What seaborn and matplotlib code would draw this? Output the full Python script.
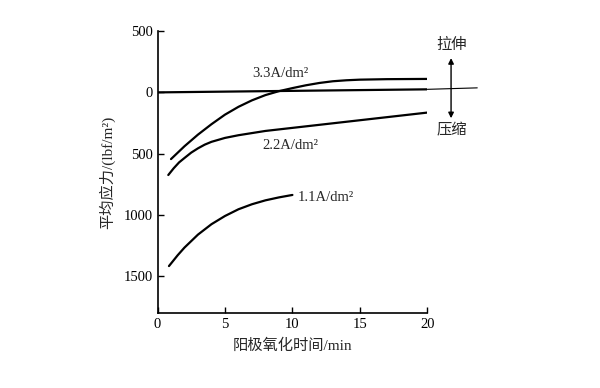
import numpy as np
import pandas as pd
import matplotlib
matplotlib.use("Agg")
import matplotlib.pyplot as plt
import seaborn as sns

# values (stress: tension positive, compression negative)
t_33 = [1, 2, 3, 4, 5, 6, 7, 8, 9, 10, 11, 12, 13, 14, 15, 17, 20]
s_33 = [-545, -440, -345, -260, -182, -118, -65, -22, 10, 35, 58, 77, 91, 99, 104, 108, 110]

t_22 = [0.8, 1.2, 1.6, 2, 2.5, 3, 3.5, 4, 5, 6, 8, 10, 12, 14, 16, 18, 20]
s_22 = [-675, -620, -572, -536, -492, -457, -427, -404, -372, -350, -315, -290, -265, -240, -215, -190, -165]

t_11 = [0.85, 1.5, 2, 3, 4, 5, 6, 7, 8, 9, 10]
s_11 = [-1419, -1330, -1268, -1162, -1077, -1010, -955, -914, -882, -858, -838]

t_zero = [0, 20]
s_zero = [0, 25]
t_zero_ext = [20, 23.7]
s_zero_ext = [25, 37]

yticks = [500, 0, -500, -1000, -1500]
ytick_labels = ["500", "0", "500", "1000", "1500"]
xticks = [0, 5, 10, 15, 20]

sns.set_theme(style="ticks")
plt.rcParams["font.family"] = ["Liberation Serif", "Noto Sans CJK SC"]
plt.rcParams["axes.unicode_minus"] = False

df = pd.concat([
    pd.DataFrame({"t": t_33, "s": s_33, "curve": "3.3"}),
    pd.DataFrame({"t": t_22, "s": s_22, "curve": "2.2"}),
    pd.DataFrame({"t": t_11, "s": s_11, "curve": "1.1"}),
    pd.DataFrame({"t": t_zero, "s": s_zero, "curve": "0"}),
])

fig = plt.figure(figsize=(6, 3.88), dpi=100)
ax = fig.add_axes([0.2625, 0.1941, 0.4497, 0.7255])

sns.lineplot(data=df, x="t", y="s", units="curve", estimator=None, sort=False,
             color="black", linewidth=1.6, ax=ax, legend=False)
ax.plot(t_zero_ext, s_zero_ext, color="black", linewidth=0.8, clip_on=False)

ax.set_xlim(0, 20)
ax.set_ylim(-1800, 500)
ax.set_xticks(xticks)
ax.set_yticks(yticks)
ax.set_yticklabels(ytick_labels)
ax.tick_params(direction="in", length=4, width=1, labelsize=10.5, colors="black")
sns.despine(ax=ax)
for sp in ["left", "bottom"]:
    ax.spines[sp].set_linewidth(1.2)
    ax.spines[sp].set_color("black")

ax.set_xlabel("阳极氧化时间/min", fontsize=11, labelpad=6)
ax.set_ylabel("平均应力/(lbf/m²)", fontsize=11, labelpad=6)

ax.text(7.0, 158, "3.3A/dm²", fontsize=10.5, va="center", ha="left")
ax.text(7.75, -430, "2.2A/dm²", fontsize=10.5, va="center", ha="left")
ax.text(10.4, -855, "1.1A/dm²", fontsize=10.5, va="center", ha="left")

# tension / compression arrow to the right of the axes
ax.annotate("", xy=(21.76, 280), xytext=(21.76, -211),
            arrowprops=dict(arrowstyle="<|-|>", color="black", lw=1.0,
                            mutation_scale=8, shrinkA=0, shrinkB=0),
            annotation_clip=False)
ax.text(21.8, 387, "拉伸", fontsize=11, ha="center", va="center", clip_on=False)
ax.text(21.8, -309, "压缩", fontsize=11, ha="center", va="center", clip_on=False)

fig.savefig("out.png", dpi=100, facecolor="white")
